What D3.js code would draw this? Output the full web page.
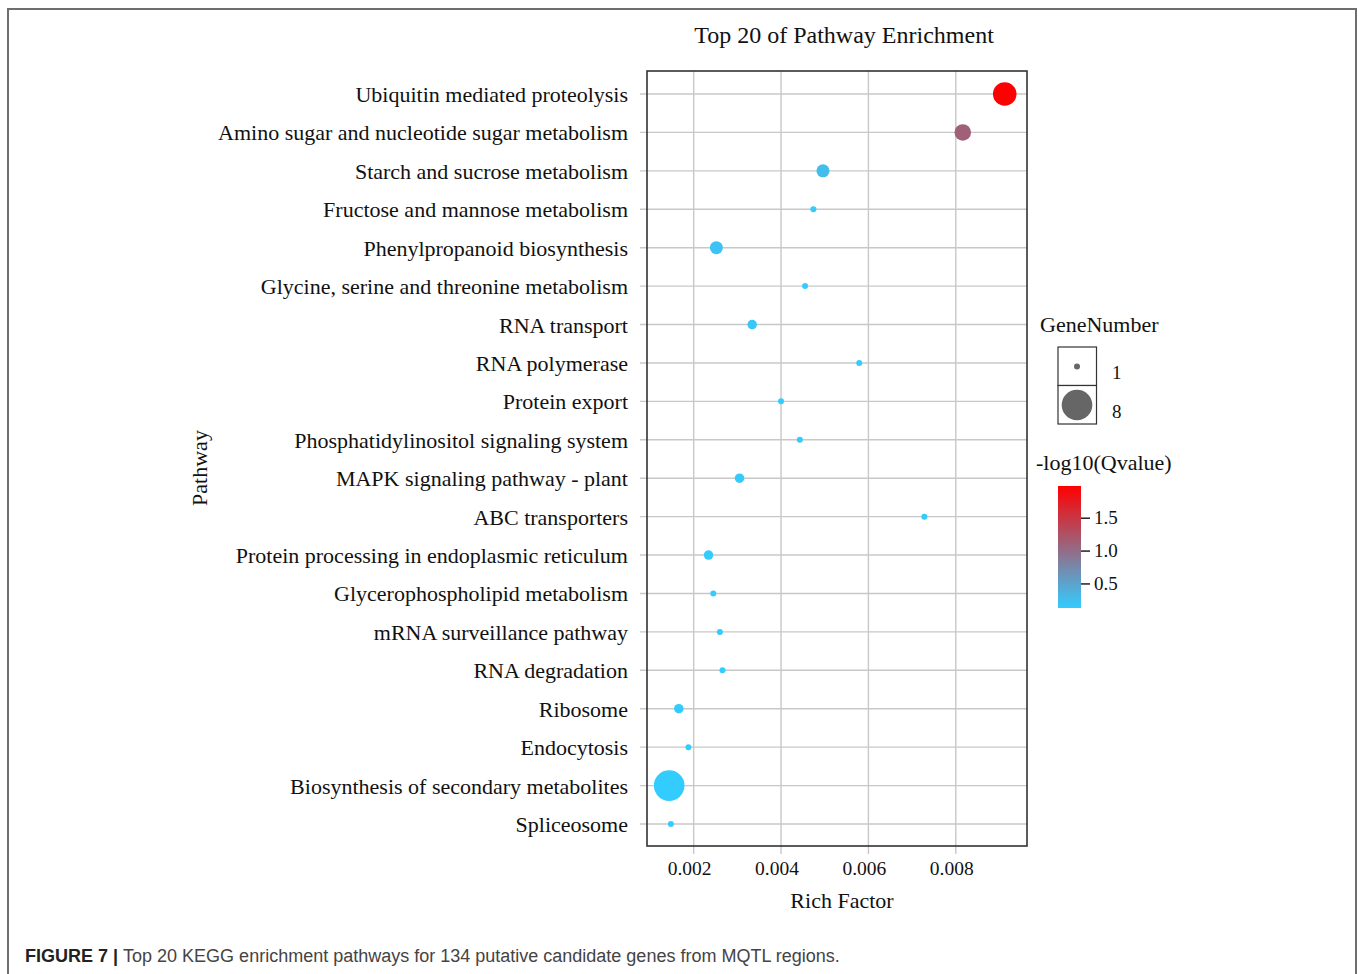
<!DOCTYPE html>
<html>
<head>
<meta charset="utf-8">
<script src="https://d3js.org/d3.v7.min.js"></script>
<style>
  body { margin: 0; background: #fff; }
  text { font-family: "Liberation Serif", "Times New Roman", serif; fill: #111; }
</style>
</head>
<body>
<script>
// pathways, top to bottom
var pathways = [
  "Ubiquitin mediated proteolysis",
  "Amino sugar and nucleotide sugar metabolism",
  "Starch and sucrose metabolism",
  "Fructose and mannose metabolism",
  "Phenylpropanoid biosynthesis",
  "Glycine, serine and threonine metabolism",
  "RNA transport",
  "RNA polymerase",
  "Protein export",
  "Phosphatidylinositol signaling system",
  "MAPK signaling pathway - plant",
  "ABC transporters",
  "Protein processing in endoplasmic reticulum",
  "Glycerophospholipid metabolism",
  "mRNA surveillance pathway",
  "RNA degradation",
  "Ribosome",
  "Endocytosis",
  "Biosynthesis of secondary metabolites",
  "Spliceosome"
];
var richFactor = [0.00912, 0.00816, 0.00496, 0.00474, 0.00252, 0.00455, 0.00334, 0.00579, 0.00400, 0.00443,
                  0.00305, 0.00728, 0.00234, 0.00245, 0.00260, 0.00266, 0.00166, 0.00188, 0.00144, 0.00148];
var geneNumber = [6, 4, 3, 1, 3, 1, 2, 1, 1, 1, 2, 1, 2, 1, 1, 1, 2, 1, 8, 1];
var qLog = [1.99, 1.12, 0.27, 0.14, 0.22, 0.134, 0.18, 0.134, 0.134, 0.134,
            0.15, 0.134, 0.14, 0.134, 0.134, 0.134, 0.14, 0.134, 0.134, 0.134];
var xTicks = [0.002, 0.004, 0.006, 0.008];
var qTicks = [0.5, 1.0, 1.5];
var sizeBreaks = [1, 8];

var w = 1358, h = 974;
var panel = { left: 647, right: 1027, top: 71, bottom: 846 };

var svg = d3.select("body").append("svg").attr("width", w).attr("height", h);
svg.append("rect").attr("width", w).attr("height", h).attr("fill", "#fff");

// figure frame
svg.append("path")
  .attr("d", "M8," + h + "V9H1356V" + h)
  .attr("fill", "none").attr("stroke", "#6e6e6e").attr("stroke-width", 2);

var x = d3.scaleLinear().domain([0.000932, 0.00963]).range([panel.left, panel.right]);
var y = d3.scalePoint().domain(pathways).range([94, 824]);
var r = d3.scaleLinear().domain([1, 8]).range([3, 15.3]);
var color = d3.scaleLinear().domain([0.134, 1.99]).range(["#33ccff", "#ff0000"]).interpolate(d3.interpolateRgb);

// grid
var g = svg.append("g");
g.selectAll(".vgrid").data(xTicks).enter().append("line")
  .attr("x1", function(d) { return x(d); }).attr("x2", function(d) { return x(d); })
  .attr("y1", panel.top).attr("y2", panel.bottom + 8)
  .attr("stroke", "#c8c8c8").attr("stroke-width", 1.4);
g.selectAll(".hgrid").data(pathways).enter().append("line")
  .attr("x1", panel.left - 7).attr("x2", panel.right)
  .attr("y1", function(d) { return y(d); }).attr("y2", function(d) { return y(d); })
  .attr("stroke", "#c8c8c8").attr("stroke-width", 1.4);

// points
var rows = pathways.map(function(p, i) {
  return { name: p, rf: richFactor[i], n: geneNumber[i], q: qLog[i] };
});
g.selectAll("circle").data(rows).enter().append("circle")
  .attr("cx", function(d) { return x(d.rf); })
  .attr("cy", function(d) { return y(d.name); })
  .attr("r", function(d) { return r(d.n); })
  .attr("fill", function(d) { return color(d.q); });

// panel border
svg.append("rect")
  .attr("x", panel.left).attr("y", panel.top)
  .attr("width", panel.right - panel.left).attr("height", panel.bottom - panel.top)
  .attr("fill", "none").attr("stroke", "#333").attr("stroke-width", 1.6);

// y labels
svg.selectAll(".ylab").data(pathways).enter().append("text")
  .attr("x", 628).attr("y", function(d) { return y(d) + 8; })
  .attr("text-anchor", "end").style("font-size", "22px")
  .text(function(d) { return d; });

// x labels
svg.selectAll(".xlab").data(xTicks).enter().append("text")
  .attr("x", function(d) { return x(d) - 4; }).attr("y", 875)
  .attr("text-anchor", "middle").style("font-size", "19.5px")
  .text(function(d) { return d3.format(".3f")(d); });

svg.append("text").attr("x", 842).attr("y", 908).attr("text-anchor", "middle")
  .style("font-size", "22px").text("Rich Factor");
svg.append("text").attr("transform", "translate(207,468) rotate(-90)").attr("text-anchor", "middle")
  .style("font-size", "22px").text("Pathway");
svg.append("text").attr("x", 844).attr("y", 43).attr("text-anchor", "middle")
  .style("font-size", "24px").text("Top 20 of Pathway Enrichment");

// size legend
var leg = svg.append("g");
leg.append("text").attr("x", 1040).attr("y", 332).style("font-size", "22px").text("GeneNumber");
sizeBreaks.forEach(function(b, i) {
  var top = 347 + i * 38.5;
  leg.append("rect").attr("x", 1058).attr("y", top).attr("width", 38.5).attr("height", 38.5)
    .attr("fill", "#fff").attr("stroke", "#333").attr("stroke-width", 1.2);
  leg.append("circle").attr("cx", 1077).attr("cy", top + 19.5).attr("r", r(b)).attr("fill", "#666");
  leg.append("text").attr("x", 1112).attr("y", top + 32).style("font-size", "19px").text(b);
});

// colour legend
leg.append("text").attr("x", 1036).attr("y", 470).style("font-size", "22px").text("-log10(Qvalue)");
var cb = d3.scaleLinear().domain(color.domain()).range([608, 486]);
var grad = svg.append("defs").append("linearGradient").attr("id", "qgrad")
  .attr("x1", 0).attr("y1", 1).attr("x2", 0).attr("y2", 0);
d3.range(0, 1.0001, 0.05).forEach(function(t) {
  var v = color.domain()[0] + t * (color.domain()[1] - color.domain()[0]);
  grad.append("stop").attr("offset", t).attr("stop-color", color(v));
});
leg.append("rect").attr("x", 1058).attr("y", 486).attr("width", 23).attr("height", 122)
  .attr("fill", "url(#qgrad)");
qTicks.forEach(function(t) {
  leg.append("line").attr("x1", 1081).attr("x2", 1090).attr("y1", cb(t)).attr("y2", cb(t))
    .attr("stroke", "#111").attr("stroke-width", 1.4);
  leg.append("text").attr("x", 1094).attr("y", cb(t) + 6).style("font-size", "19px")
    .text(d3.format(".1f")(t));
});

// caption
var cap = svg.append("text").attr("x", 25).attr("y", 962)
  .style("font-family", "'Liberation Sans', Arial, sans-serif").style("font-size", "18px");
cap.append("tspan").style("font-weight", "bold").style("fill", "#222").text("FIGURE 7 | ");
cap.append("tspan").style("fill", "#444").text("Top 20 KEGG enrichment pathways for 134 putative candidate genes from MQTL regions.");
</script>
</body>
</html>
